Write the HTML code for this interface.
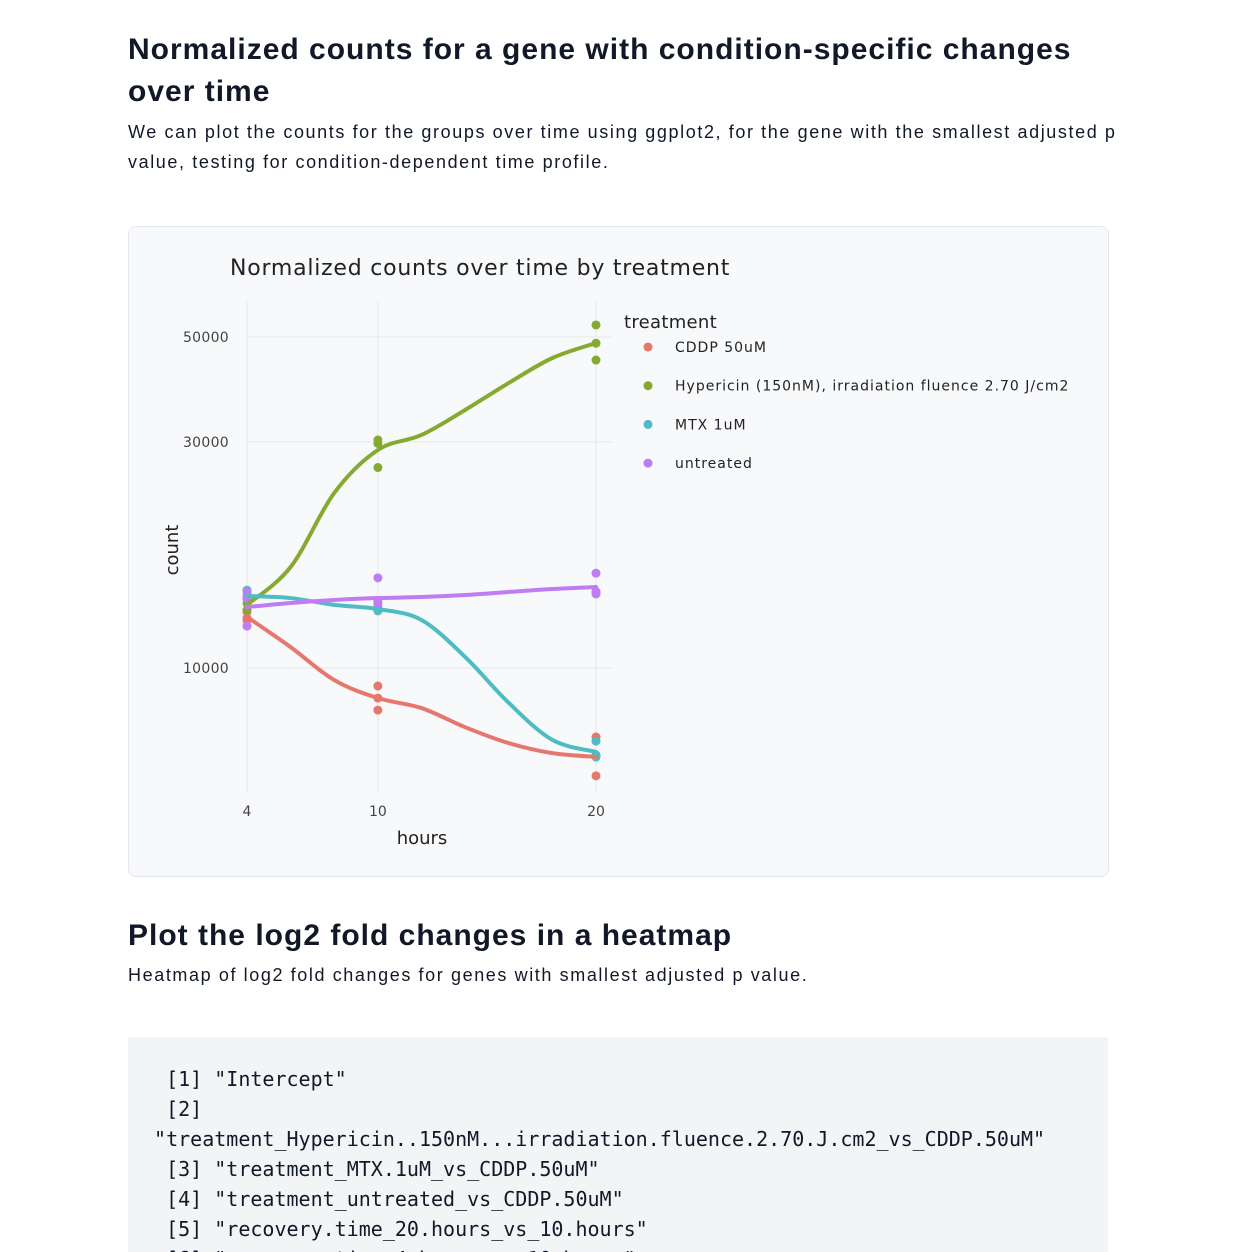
<!DOCTYPE html>
<html style="overflow:hidden"><head><meta charset="utf-8">
<style>
html,body{margin:0;width:1238px;height:1252px;overflow:hidden;}
body{background:#fff;font-family:"Liberation Sans",sans-serif;color:#111827;position:relative;}
h1,h2{position:absolute;left:128px;margin:0;font-weight:700;font-size:30px;line-height:42px;width:990px;letter-spacing:1px;}
p{position:absolute;left:128px;margin:0;font-size:18px;line-height:30px;width:990px;letter-spacing:1.6px;}
.card{position:absolute;left:128px;top:226px;width:979px;height:649px;background:#f8f9fb;border:1px solid #e5e7eb;border-radius:8px;}
.code{position:absolute;left:128px;top:1037px;width:966px;height:215px;padding-left:14px;background:#f3f4f6;font-family:"DejaVu Sans Mono",monospace;font-size:20px;line-height:30px;white-space:pre;overflow:hidden;}
</style></head><body>
<h1 style="top:29px">Normalized counts for a gene with condition-specific changes over time</h1>
<p style="top:117px">We can plot the counts for the groups over time using ggplot2, for the gene with the smallest adjusted p value, testing for condition-dependent time profile.</p>
<div class="card"></div>
<svg id="chart" width="1238" height="1252" style="position:absolute;left:0;top:0" font-family="DejaVu Sans, sans-serif"></svg>
<h2 style="top:915px">Plot the log2 fold changes in a heatmap</h2>
<p style="top:960px">Heatmap of log2 fold changes for genes with smallest adjusted p value.</p>
<div class="code" style="padding-top:0"><div style="margin-top:-3px">
  [1] "Intercept"
  [2]
 "treatment_Hypericin..150nM...irradiation.fluence.2.70.J.cm2_vs_CDDP.50uM"
  [3] "treatment_MTX.1uM_vs_CDDP.50uM"
  [4] "treatment_untreated_vs_CDDP.50uM"
  [5] "recovery.time_20.hours_vs_10.hours"
  [6] "recovery.time_4.hours_vs_10.hours"</div></div>
<script>
const treatments=["CDDP 50uM","Hypericin (150nM), irradiation fluence 2.70 J/cm2","MTX 1uM","untreated"];
const colors=["#e7776e","#86aa30","#4ebcc2","#c07cf2"];
const hours=[4,10,20];
const xTicks=[4,10,20];
const yTicks=[10000,30000,50000];
const yTickLabels=["10000","30000","50000"];
const ptsCDDP=[[13140,12750,12600],[9160,8640,8150],[7150,6490,5920]];
const ptsHyp=[[13700,13250,14000],[30300,29800,26500],[53000,48500,44700]];
const ptsMTX=[[14600,14200,14000],[13650,13400,13200],[7010,6490,6550]];
const ptsUnt=[[14470,14050,12260],[15500,13600,13800],[15860,14330,14500]];
const fitHours=[4,6,8,10,12,14,16,18,20];
const fitCDDP=[12820,11070,9430,8640,8230,7500,6940,6610,6490];
const fitHyp=[13590,16340,23420,28860,31050,35060,39980,45140,48560];
const fitMTX=[14190,14050,13590,13320,12630,10550,8440,7050,6650];
const fitUnt=[13450,13720,13920,14050,14120,14260,14470,14680,14830];

const svg=document.getElementById('chart');const NS="http://www.w3.org/2000/svg";
function mk(t,a,p){const e=document.createElementNS(NS,t);for(const k in a)e.setAttribute(k,a[k]);(p||svg).appendChild(e);return e;}
const X=h=>247+(h-4)*(596-247)/16;
const Y=v=>668-(Math.log10(v)-4)*473.6;
yTicks.forEach((v,i)=>{
 const g=mk('line',{x1:247,x2:613,y1:Y(v),y2:Y(v),stroke:'#e6e7ea','stroke-width':1});
 
 
 const t=mk('text',{x:229,y:Y(v)+5,'text-anchor':'end','font-size':14,fill:'#444','letter-spacing':0.3});t.textContent=yTickLabels[i];
 
 
});
xTicks.forEach(h=>{
 const g=mk('line',{x1:X(h),x2:X(h),y1:302,y2:792,stroke:'#e6e7ea','stroke-width':1});
 
 
 const t=mk('text',{x:X(h),y:816,'text-anchor':'middle','font-size':14,fill:'#444'});t.textContent=h;
 
 
});
let t=mk('text',{x:230,y:275,'font-size':22,fill:'#222','letter-spacing':0.77});t.textContent="Normalized counts over time by treatment";


t=mk('text',{x:422,y:844,'text-anchor':'middle','font-size':18,fill:'#222'});t.textContent="hours";


t=mk('text',{x:0,y:0,'text-anchor':'middle','font-size':18,fill:'#222',transform:'translate(178,550) rotate(-90)'});t.textContent="count";


const pts=[ptsCDDP,ptsHyp,ptsMTX,ptsUnt],fits=[fitCDDP,fitHyp,fitMTX,fitUnt];
function smooth(p){let d=`M${p[0][0]},${p[0][1]}`;for(let i=0;i<p.length-1;i++){const p0=p[Math.max(0,i-1)],p1=p[i],p2=p[i+1],p3=p[Math.min(p.length-1,i+2)];d+=` C${p1[0]+(p2[0]-p0[0])/6},${p1[1]+(p2[1]-p0[1])/6} ${p2[0]-(p3[0]-p1[0])/6},${p2[1]-(p3[1]-p1[1])/6} ${p2[0]},${p2[1]}`;}return d;}
pts.forEach((s,si)=>{s.forEach((arr,hi)=>arr.forEach(v=>{
 const c=mk('circle',{cx:X(hours[hi]),cy:Y(v),r:4.5,fill:colors[si]});
 
 
}));});
fits.forEach((f,si)=>{
 const p=mk('path',{d:smooth(f.map((v,i)=>[X(fitHours[i]),Y(v)])),fill:'none',stroke:colors[si],'stroke-width':4,'stroke-linecap':'round'});
 
 
});
t=mk('text',{x:624,y:328,'font-size':18,fill:'#222','letter-spacing':0.3});t.textContent="treatment";


treatments.forEach((n,i)=>{
 const y=347+i*38.7;
 const g=mk('g',{});
 
 
 mk('circle',{cx:648,cy:y,r:4.5,fill:colors[i]},g);
 const tt=mk('text',{x:675,y:y+5,'font-size':14,fill:'#222','letter-spacing':1},g);tt.textContent=n;
});
</script>
</body></html>
